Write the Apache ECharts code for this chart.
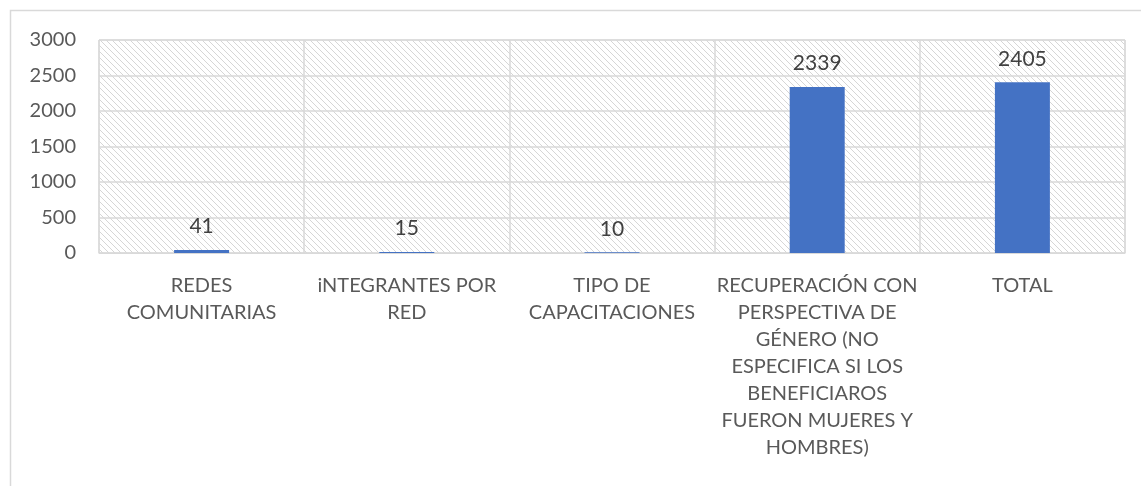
<!DOCTYPE html>
<html>
<head>
<meta charset="utf-8">
<script src="https://cdn.jsdelivr.net/npm/echarts@6/dist/echarts.min.js"></script>
<style>
  html, body { margin: 0; padding: 0; background: #fff; }
  #chart { width: 1141px; height: 486px; }
</style>
</head>
<body>
<div id="chart"></div>
<script>
// datos del gráfico
var categorias = [
    'REDES\nCOMUNITARIAS',
    'iNTEGRANTES POR\nRED',
    'TIPO DE\nCAPACITACIONES',
    'RECUPERACIÓN CON\nPERSPECTIVA DE\nGÉNERO (NO\nESPECIFICA SI LOS\nBENEFICIAROS\nFUERON MUJERES Y\nHOMBRES)',
    'TOTAL'
];
var valores = [41, 15, 10, 2339, 2405];
var ejeY = { min: 0, max: 3000, intervalo: 500 };

// patrón rayado del fondo
function crearRayado() {
    var s = 6;
    var c = document.createElement('canvas');
    c.width = s; c.height = s;
    var ctx = c.getContext('2d');
    ctx.fillStyle = '#ffffff';
    ctx.fillRect(0, 0, s, s);
    ctx.strokeStyle = '#d6d6d6';
    ctx.lineWidth = 1;
    [-s, 0, s].forEach(function (k) {
        ctx.beginPath();
        ctx.moveTo(k, 0);
        ctx.lineTo(k + s, s);
        ctx.stroke();
    });
    return c;
}

var myChart = echarts.init(document.getElementById('chart'));
var fuente = 'Lato, "Liberation Sans", sans-serif';

var option = {
    animation: false,
    graphic: [{
        type: 'rect',
        shape: { x: 10.5, y: 10.5, width: 1300, height: 600 },
        style: { fill: 'none', stroke: '#d9d9d9', lineWidth: 1.5 },
        silent: true
    }],
    grid: {
        left: 99,
        right: 16,
        top: 40,
        bottom: 233,
        show: true,
        borderColor: '#d9d9d9',
        borderWidth: 1,
        backgroundColor: { image: crearRayado(), repeat: 'repeat' }
    },
    xAxis: {
        type: 'category',
        data: categorias,
        axisLine: { show: true, lineStyle: { color: '#d9d9d9' } },
        axisTick: { show: false },
        splitLine: { show: true, lineStyle: { color: '#d9d9d9', width: 1.5 } },
        axisLabel: {
            interval: 0,
            color: '#595959',
            fontSize: 20,
            fontFamily: fuente,
            lineHeight: 27,
            margin: 19
        }
    },
    yAxis: {
        type: 'value',
        min: ejeY.min,
        max: ejeY.max,
        interval: ejeY.intervalo,
        axisLine: { show: false },
        axisTick: { show: false },
        splitLine: { lineStyle: { color: '#d9d9d9', width: 1.5 } },
        axisLabel: {
            color: '#595959',
            fontSize: 20,
            fontFamily: fuente,
            margin: 23,
            formatter: function (v) { return String(v); }
        }
    },
    series: [{
        type: 'bar',
        data: valores,
        barWidth: 55,
        itemStyle: { color: '#4472c4' },
        label: {
            show: true,
            position: 'top',
            distance: 13,
            color: '#404040',
            fontSize: 21,
            fontFamily: fuente
        }
    }]
};

myChart.setOption(option);
</script>
</body>
</html>
